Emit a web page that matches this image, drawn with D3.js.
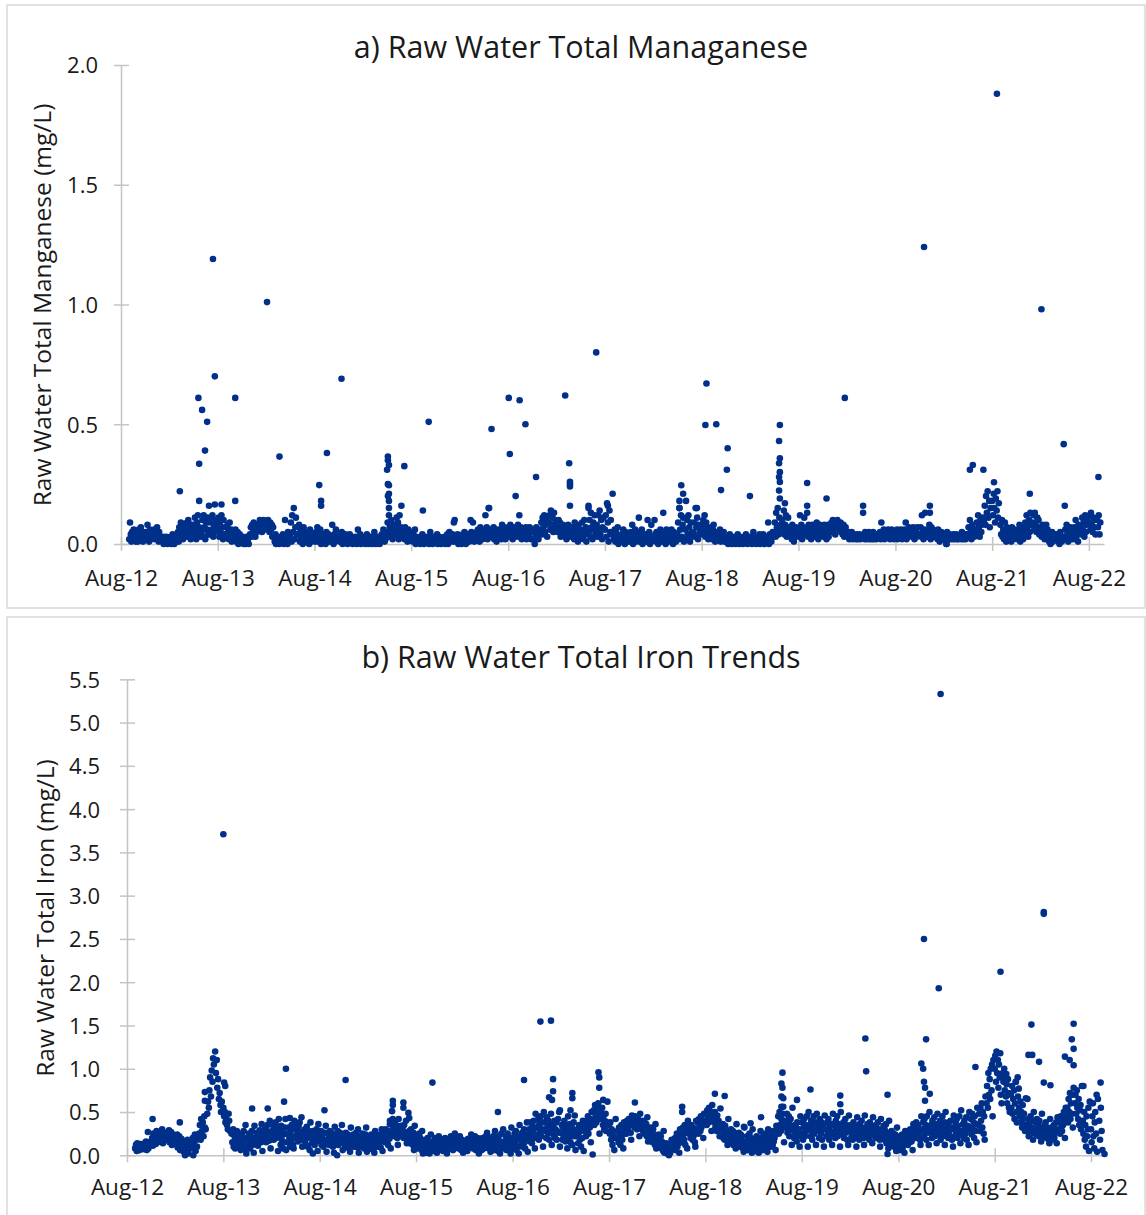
<!DOCTYPE html>
<html>
<head>
<meta charset="utf-8">
<script src="https://cdn.jsdelivr.net/npm/d3@7"></script>
<style>
  body { margin: 0; background: #fff; }
  text { font-family: "Open Sans", sans-serif; fill: #1a1a1a; }
</style>
</head>
<body>
<svg id="chart" width="1146" height="1215"></svg>
<script>
// Raw water manganese, hundredths of mg/L, one string per month (readings every few days)
const mn2012 = ["2 9 4 1 5 3 6 2 4 1", "3 1 6 4 2 7 3 5 1 4", "5 2 4 8 3 1 6 4 2 5", "4 6 2 5 3 7 4 1 5 3"];
const mn2013 = ["2 1 3 0 2 1 3 1 0 2", "1 3 0 2 4 1 0 2 3 1", "2 5 1 7 3 9 4 6 2 8", "6 3 9 5 10 4 7 2 8 5",
  "8 4 11 6 2 9 12 5 7 3", "5 10 3 12 7 2 9 6 11 4", "9 4 11 6 12 3 8 5 10 7", "6 11 3 9 5 12 7 2 10 4",
  "7 3 8 5 2 9 4 6 1 5", "4 2 6 1 3 5 0 2 4 1", "1 3 0 2 1 0 3 1 2 0", "4 7 3 8 5 9 6 3 7 5"];
const mn2014 = ["8 6 10 7 9 5 8 10 6 9", "9 7 10 8 5 9 6 8 3 7", "3 1 4 0 2 1 3 0 2 1", "1 4 0 2 10 1 3 0 5 2",
  "3 9 1 12 5 15 2 7 11 4", "4 8 1 6 2 5 0 7 3 2", "2 5 1 4 0 6 3 1 4 2", "3 1 5 2 7 1 4 2 6 0",
  "2 4 1 3 0 5 2 1 4 3", "1 3 8 2 0 4 1 6 2 3", "3 1 4 2 5 0 2 3 1 4", "2 0 3 1 4 2 1 3 0 2"];
const mn2015 = ["1 3 0 2 6 1 2 4 0 1", "2 1 3 0 2 4 1 0 3 1", "1 3 0 2 1 5 2 0 1 3", "2 0 3 1 4 2 6 3 1 2",
  "5 9 3 12 7 4 10 6 2 8", "8 4 11 6 9 2 12 5 7 3", "4 6 2 7 3 5 1 6 3 4", "3 5 1 4 2 6 0 3 2 1",
  "2 0 3 1 4 2 0 1 3 1", "1 3 0 2 5 1 2 0 3 1", "2 1 4 0 2 3 1 0 2 1", "1 3 0 2 1 4 0 2 5 1"];
const mn2016 = ["2 4 1 9 10 3 1 2 4 0", "1 3 0 2 4 1 5 2 0 3", "2 4 1 3 10 5 2 9 3 1", "3 5 2 6 4 1 7 3 5 2",
  "4 6 12 3 7 2 5 15 3 6", "5 3 7 2 6 4 1 5 3 6", "4 6 2 8 3 5 7 2 6 4", "5 7 3 8 4 6 2 7 5 3",
  "6 4 8 3 12 5 7 2 6 4", "3 5 7 2 6 4 3 7 5 2", "5 2 6 0 4 7 3 5 2 4", "6 9 4 11 7 12 5 8 10 3"];
const mn2017 = ["9 12 6 14 8 11 5 13 7 10", "8 5 10 6 9 3 7 4 8 6", "5 3 7 2 6 8 4 3 5 7", "4 7 2 9 5 3 6 1 8 4",
  "6 3 9 5 2 10 4 7 1 5", "5 10 3 13 7 2 9 6 12 4", "8 3 12 6 14 4 10 2 7 11", "6 12 3 17 9 1 14 5 10 4",
  "4 2 6 1 5 3 7 0 3 2", "2 4 1 6 3 0 5 2 4 1", "3 1 5 2 8 0 4 2 6 1", "2 5 11 1 4 3 6 0 3 2"];
const mn2018 = ["4 1 3 10 2 5 0 3 8 2", "2 10 4 1 5 3 0 4 2 6", "3 1 5 13 2 4 0 6 3 1", "2 4 1 6 3 0 5 2 4 1",
  "4 9 2 15 6 12 3 8 11 1", "6 2 10 4 12 7 1 9 3 5", "5 9 3 15 7 11 2 8 4 6", "8 4 10 6 12 3 9 5 7 2",
  "5 3 7 2 6 8 4 1 5 3", "3 5 2 6 1 4 3 2 5 1", "2 1 3 0 2 4 1 3 0 2", "1 3 0 2 1 4 2 0 3 1"];
const mn2019 = ["2 0 3 1 2 4 1 0 2 3", "1 3 0 2 5 1 3 2 0 2", "2 1 4 0 3 1 2 4 1 0", "1 3 2 9 0 4 2 1 3 5",
  "5 9 3 13 7 15 4 11 6 8", "10 6 14 4 8 12 3 7 11 5", "4 7 2 8 5 1 6 3 7 4", "6 3 12 5 8 2 7 4 11 6",
  "5 7 3 8 4 6 2 5 8 3", "4 7 3 9 5 2 6 8 4 5", "6 3 8 4 7 2 5 8 3 6", "7 9 5 10 6 8 4 9 7 10"];
const mn2020 = ["8 6 9 5 7 4 8 3 6 7", "4 3 5 2 4 3 5 2 4 3", "3 2 4 3 2 3 4 2 3 3", "3 4 2 5 3 2 4 3 5 2",
  "4 2 3 5 2 4 3 2 4 3", "3 5 2 9 4 3 6 2 5 4", "4 6 3 5 2 4 6 3 5 2", "5 3 6 2 4 5 3 6 4 2",
  "3 6 4 9 2 5 3 7 4 6", "5 3 7 4 2 6 5 3 7 4", "4 7 3 12 5 2 6 13 4 3", "6 3 8 5 2 7 4 6 3 5"];
const mn2021 = ["3 5 2 6 4 1 3 5 2 4", "2 4 3 0 5 2 3 4 2 3", "3 2 4 3 2 3 4 2 3 2", "3 4 2 5 3 2 4 3 2 4",
  "4 7 3 10 5 2 8 4 6 3", "6 9 4 12 7 3 10 5 8 11", "10 16 8 20 13 22 11 18 7 15", "18 12 21 15 9 19 14 22 11 17",
  "8 4 10 3 6 2 9 5 1 7", "3 6 2 5 1 7 4 2 6 3", "4 2 6 3 8 1 5 3 7 2", "6 9 4 12 7 3 10 5 13 8"];
const mn2022 = ["9 12 6 13 8 5 11 7 10 4", "6 3 8 4 7 2 5 8 3 6", "3 1 4 0 2 5 1 3 2 4", "2 4 1 3 0 5 2 1 3 2",
  "3 6 2 8 4 1 5 3 7 2", "5 2 7 4 10 3 6 1 8 5", "7 4 11 6 9 3 12 5 8 10", "9 12 6 13 8 5 11 7 10 4",
  "10 7 12 4 9"];

// Raw water iron, hundredths of mg/L, one string per month
const fe2012 = ["8 12 5 14 7 10 6 13 9 11", "10 7 14 9 16 6 12 8 15 11", "14 20 11 25 17 22 13 28 18 15", "22 16 27 19 30 14 24 18 26 20"];
const fe2013 = ["25 18 29 15 22 27 12 20 24 17", "20 14 24 9 18 22 6 15 19 12", "10 4 16 0 12 7 18 2 9 14", "15 8 20 0 12 24 5 18 10 22",
  "25 35 18 42 28 38 22 45 32 30", "48 62 55 75 90 68 98 85 112 105", "120 95 110 78 88 65 72 58 50 62", "55 45 50 38 42 35 30 48 40 28",
  "25 15 30 10 22 8 18 28 12 20", "12 22 6 18 25 10 15 28 8 20 35 2", "18 10 25 14 8 22 16 28 12 20 3 34", "20 14 26 18 11 24 16 29 22 15 36 5"];
const fe2014 = ["24 18 30 22 15 28 35 20 26 17 40 8", "28 22 34 18 30 25 38 20 32 26 5 42", "30 22 12 34 18 27 8 24 15 32 42 6", "25 15 32 20 10 28 18 35 22 12 8 40",
  "30 20 36 25 16 33 28 38 22 18 44 10", "26 18 30 14 24 33 20 10 28 22 6 38", "20 14 28 18 24 12 26 16 30 22 5 36", "22 16 28 12 20 25 10 18 26 14 34 4",
  "18 24 12 28 20 15 26 22 10 19 3 33", "24 15 20 28 12 22 18 26 14 20 35 6", "16 22 10 26 18 12 24 20 8 17 4 32", "20 14 24 10 18 22 12 26 16 9 30 3"];
const fe2015 = ["15 22 10 18 25 12 20 8 16 24 32 4", "12 20 8 18 14 24 10 16 6 19 3 28", "18 12 22 10 16 20 14 24 9 17 30 5", "20 26 15 30 22 18 28 12 24 19 36 8",
  "28 35 24 32 22 38 30 26 34 20 12 42", "30 25 34 22 32 28 20 35 26 24 40 14", "24 18 28 14 22 30 16 20 12 26 6 34", "18 12 22 8 16 25 10 20 14 6 28 2",
  "12 6 18 3 15 20 8 14 2 10 24", "10 16 5 12 20 8 14 3 18 11 22", "14 8 18 10 5 16 12 20 7 13 2", "12 18 8 15 22 10 16 6 14 19 25"];
const fe2016 = ["16 10 20 8 14 22 12 6 18 13 3", "12 17 8 15 5 19 11 14 9 16 24", "14 8 18 12 22 6 16 10 20 13 2", "10 16 6 20 12 8 18 14 22 9 26",
  "15 8 20 4 12 18 10 22 6 14 28", "12 18 5 22 10 2 16 25 8 14 30", "16 10 22 6 18 25 12 8 20 14 2 32", "14 20 8 25 12 28 6 18 22 10 2 35",
  "18 12 26 10 22 30 15 8 24 20 38 4", "22 30 16 38 25 14 34 28 40 20 8 48", "32 24 42 18 36 28 45 22 38 30 10 50", "28 38 20 44 32 25 40 18 35 30 48 12"];
const fe2017 = ["34 24 40 20 30 38 18 28 42 26 50 10", "26 35 18 32 22 40 28 16 34 24 8 45", "30 20 36 15 26 32 12 28 38 22 46 6", "22 30 14 26 35 18 28 10 32 20 40 5",
  "28 36 22 40 30 45 25 38 32 42 15 50", "40 52 35 58 45 38 55 48 60 42 25", "50 42 55 35 46 30 40 48 28 38 62", "35 25 38 18 30 12 28 22 6 20 42",
  "20 28 15 32 22 12 26 35 18 24 8 38", "30 36 25 40 32 28 42 34 38 26 18 46", "38 42 32 45 36 40 30 44 35 40 22 48", "36 30 40 28 34 38 25 32 36 22 44 16"];
const fe2018 = ["28 22 32 18 26 15 30 20 24 12 36 8", "20 14 24 10 18 22 8 16 12 5 28 3", "10 5 14 2 8 12 0 6 3 9 18", "8 15 12 20 6 18 25 10 22 14 3 30",
  "20 28 15 32 24 18 35 12 30 26 8 40", "25 30 20 35 28 18 32 22 26 15 10 40", "30 38 25 42 34 28 45 32 40 36 20 48", "40 48 35 52 44 38 55 46 42 50 28 58",
  "45 38 50 32 42 28 46 35 40 30 22 54", "32 25 36 20 30 18 34 28 22 26 12 42", "25 18 30 14 22 28 12 20 26 16 8 36", "20 14 26 10 18 24 12 22 16 8 4 32"];
const fe2019 = ["15 10 22 6 18 12 25 8 20 14 3 30", "12 18 5 15 22 8 14 3 20 10 28", "10 16 6 22 12 18 8 25 14 20 4 30", "15 22 10 26 18 12 28 16 20 24 6 34",
  "30 45 25 50 35 28 42 38 48 32 15", "40 32 48 26 38 45 22 35 42 30 12 55", "28 20 35 24 32 16 38 26 30 22 10 45", "25 38 18 32 42 22 35 28 45 30 10 50",
  "35 22 40 28 18 32 45 25 38 30 12 48", "28 36 20 42 32 25 38 18 34 30 10 46", "30 22 38 26 42 18 34 28 24 36 12 48", "26 34 20 40 30 45 22 36 28 32 10 50"];
const fe2020 = ["32 24 38 20 28 42 26 35 18 30 12 46", "28 35 22 32 18 38 25 30 20 34 10 44", "24 30 18 36 28 22 40 32 26 20 12 46", "30 22 36 25 32 18 38 28 24 34 14 44",
  "26 32 20 35 28 24 38 22 30 18 10 42", "28 22 34 18 30 25 36 14 26 20 8 40", "22 16 28 12 20 25 10 18 24 14 5 32", "15 10 22 6 18 12 24 8 20 14 3 28",
  "18 24 12 28 20 15 30 22 16 26 6 36", "25 32 20 38 28 22 35 30 26 18 12 45", "30 38 22 42 28 35 18 45 32 26 12 50", "28 35 20 40 32 25 44 22 36 30 14 48"];
const fe2021 = ["32 24 40 18 36 28 45 22 30 38 12 50", "26 34 20 38 28 22 40 30 18 32 10 46", "30 22 38 26 42 20 34 28 45 24 14 52", "28 36 20 40 32 25 44 18 34 30 12 50",
  "32 42 24 48 30 38 20 45 28 36 15 55", "35 48 28 55 40 60 32 50 25 45 18 68", "60 80 55 95 70 88 65 100 75 105 45 110", "100 115 85 120 95 110 78 105 90 118 70 60",
  "95 85 100 75 90 68 82 60 88 72 55 50", "70 55 80 48 65 75 42 60 85 50 38 90", "55 45 62 38 50 32 58 42 48 35 28 66", "35 28 42 22 38 30 45 25 32 40 18 50"];
const fe2022 = ["30 38 24 42 28 35 22 40 32 26 16 48", "28 22 35 25 38 20 32 30 24 18 14 42", "25 32 18 28 22 35 20 30 26 38 14 44", "30 38 25 45 32 28 42 35 50 40 20 55",
  "45 55 38 65 50 72 42 60 48 70 32 78", "60 70 48 75 55 42 65 35 52 58 30 80", "40 25 50 18 35 10 45 22 30 55 5 62", "30 15 45 60 22 8 38 50 25 70 4 65",
  "40 18 55 28 6"];

// isolated high readings: [decimal year, mg/L]
const mnOutliers = [
  [2013.19, 0.22], [2013.38, 0.61], [2013.42, 0.56], [2013.47, 0.51], [2013.45, 0.39], [2013.39, 0.335],
  [2013.39, 0.18], [2013.55, 0.70], [2013.53, 1.19], [2013.76, 0.61], [2013.76, 0.18], [2013.49, 0.16],
  [2013.55, 0.165], [2013.62, 0.165], [2014.09, 1.01], [2014.22, 0.365], [2014.63, 0.246], [2014.65, 0.18],
  [2014.65, 0.16], [2014.71, 0.38], [2014.86, 0.69],
  [2015.34, 0.365], [2015.34, 0.35], [2015.35, 0.33], [2015.33, 0.31], [2015.35, 0.245], [2015.34, 0.25],
  [2015.35, 0.21], [2015.34, 0.20], [2015.35, 0.18], [2015.35, 0.15],
  [2015.51, 0.325], [2015.48, 0.16], [2015.76, 0.51], [2015.70, 0.14], [2016.38, 0.15], [2016.41, 0.48],
  [2016.59, 0.61], [2016.70, 0.60], [2016.60, 0.376], [2016.76, 0.50], [2016.66, 0.20], [2016.87, 0.28],
  [2017.17, 0.62], [2017.21, 0.337], [2017.22, 0.26], [2017.22, 0.25], [2017.22, 0.24], [2017.22, 0.16],
  [2017.41, 0.16], [2017.41, 0.15], [2017.49, 0.80], [2017.61, 0.16], [2017.66, 0.21],
  [2018.37, 0.245], [2018.39, 0.21], [2018.42, 0.18], [2018.35, 0.18], [2018.35, 0.15], [2018.53, 0.15],
  [2018.62, 0.497], [2018.63, 0.67], [2018.73, 0.50], [2018.85, 0.40], [2018.84, 0.31], [2018.78, 0.225],
  [2019.08, 0.20],
  [2019.39, 0.497], [2019.38, 0.43], [2019.39, 0.358], [2019.38, 0.337], [2019.39, 0.30], [2019.38, 0.28],
  [2019.39, 0.259], [2019.38, 0.223], [2019.39, 0.19], [2019.44, 0.17],
  [2019.67, 0.255], [2019.67, 0.16], [2019.67, 0.13], [2019.87, 0.19], [2020.06, 0.61], [2020.25, 0.16],
  [2020.25, 0.13], [2020.88, 1.24], [2020.94, 0.16], [2020.94, 0.13], [2021.11, 0.0], [2021.35, 0.31],
  [2021.38, 0.33], [2021.49, 0.31], [2021.60, 0.258], [2021.63, 1.88], [2021.97, 0.21], [2022.09, 0.98],
  [2022.32, 0.417], [2022.33, 0.16], [2022.68, 0.28]
];
const feOutliers = [
  [2012.85, 0.42], [2012.80, 0.27], [2013.13, 0.38], [2013.39, 0.73], [2013.39, 0.63], [2013.59, 0.84],
  [2013.60, 0.80], [2013.58, 3.71], [2013.88, 0.54], [2014.04, 0.54], [2014.23, 1.0], [2014.21, 0.62],
  [2014.27, 0.43], [2014.51, 0.02], [2014.63, 0.52], [2014.85, 0.87], [2014.76, 0.0],
  [2015.34, 0.63], [2015.34, 0.58], [2015.33, 0.51], [2015.31, 0.40], [2015.34, 0.42],
  [2015.45, 0.61], [2015.45, 0.55], [2015.50, 0.49], [2015.51, 0.43], [2015.75, 0.84],
  [2016.43, 0.50], [2016.70, 0.87], [2016.87, 1.545], [2016.98, 1.556], [2017.00, 0.88], [2017.00, 0.74],
  [2016.96, 0.67], [2016.99, 0.64], [2017.07, 0.52], [2017.18, 0.52], [2017.20, 0.66], [2017.20, 0.72],
  [2017.41, 0.01], [2017.47, 0.96], [2017.48, 0.90], [2017.48, 0.78], [2017.52, 0.64], [2017.85, 0.61],
  [2018.34, 0.56], [2018.34, 0.50], [2018.68, 0.71], [2018.78, 0.685], [2019.16, 0.44], [2019.05, 0.37],
  [2018.98, 0.33],
  [2019.38, 0.955], [2019.37, 0.83], [2019.38, 0.78], [2019.37, 0.68], [2019.39, 0.66], [2019.37, 0.56], [2019.39, 0.56],
  [2019.67, 0.76], [2019.53, 0.64], [2019.98, 0.69], [2019.98, 0.59], [2020.24, 1.35], [2020.25, 0.97],
  [2020.47, 0.015], [2020.47, 0.70], [2020.87, 1.34], [2020.85, 2.50], [2020.82, 1.06], [2020.84, 1.0],
  [2020.85, 0.85], [2020.86, 0.78], [2020.91, 0.71], [2020.86, 0.63], [2021.00, 1.93], [2021.02, 5.33],
  [2021.38, 1.02], [2021.64, 2.12], [2021.80, 0.85], [2021.83, 0.77], [2021.82, 0.68], [2021.92, 0.65],
  [2021.70, 0.94], [2021.96, 1.51], [2021.93, 1.16], [2021.97, 1.16], [2022.04, 1.08], [2022.09, 2.81],
  [2022.09, 2.79], [2022.09, 0.84], [2022.16, 0.81], [2022.40, 1.52], [2022.38, 1.34], [2022.31, 1.14],
  [2022.36, 1.10], [2022.40, 1.23], [2022.40, 1.04], [2022.50, 0.80], [2022.68, 0.84], [2022.72, 0.015]
];

const mnYears = [[2012, 8, mn2012], [2013, 0, mn2013], [2014, 0, mn2014], [2015, 0, mn2015], [2016, 0, mn2016],
  [2017, 0, mn2017], [2018, 0, mn2018], [2019, 0, mn2019], [2020, 0, mn2020], [2021, 0, mn2021], [2022, 0, mn2022]];
const feYears = [[2012, 8, fe2012], [2013, 0, fe2013], [2014, 0, fe2014], [2015, 0, fe2015], [2016, 0, fe2016],
  [2017, 0, fe2017], [2018, 0, fe2018], [2019, 0, fe2019], [2020, 0, fe2020], [2021, 0, fe2021], [2022, 0, fe2022]];

const tickYears = [2012, 2013, 2014, 2015, 2016, 2017, 2018, 2019, 2020, 2021, 2022];

const dotColor = "#00308a";
const axisColor = "#c4c4c4";

function monthlyPoints(years) {
  const pts = [];
  years.forEach(([year, firstMonth, months]) => {
    months.forEach((s, k) => {
      const vals = s.split(" ");
      const step = Math.min(3, 28 / vals.length);
      vals.forEach((v, i) => {
        pts.push({ date: new Date(year, firstMonth + k, 1 + Math.round(i * step)), value: +v / 100 });
      });
    });
  });
  return pts;
}

function decimalDate(t) {
  const y = Math.floor(t);
  return new Date(y, 0, 1 + Math.round((t - y) * 365.25));
}

const svg = d3.select("#chart");

function drawPanel(cfg) {
  // panel border
  svg.append("rect")
    .attr("x", cfg.frame[0]).attr("y", cfg.frame[1])
    .attr("width", cfg.frame[2]).attr("height", cfg.frame[3])
    .attr("fill", "none").attr("stroke", "#d9d9d9").attr("stroke-width", 1.5);

  const x = d3.scaleTime().domain(cfg.xDomain).range(cfg.xRange);
  const y = d3.scaleLinear().domain([0, cfg.yMax]).range(cfg.yRange);

  const g = svg.append("g");

  // y axis
  const yAxis = g.append("g")
    .attr("transform", `translate(${cfg.xRange[0]},0)`)
    .call(d3.axisLeft(y).tickValues(d3.range(0, cfg.yMax + 0.01, 0.5)).tickFormat(d3.format(".1f")).tickSizeOuter(0));
  yAxis.select(".domain").attr("stroke", axisColor).attr("stroke-width", 1.5);
  yAxis.selectAll(".tick line").attr("x1", -7).attr("x2", 8).attr("stroke", axisColor).attr("stroke-width", 1.5);
  yAxis.selectAll(".tick text").attr("x", cfg.yLabelDx).attr("dy", "0.36em")
    .style("font-size", "22px").attr("fill", "#1a1a1a");

  // x axis
  const xAxis = g.append("g")
    .attr("transform", `translate(0,${cfg.yRange[0]})`)
    .call(d3.axisBottom(x).tickValues(tickYears.map(yr => new Date(yr, 7, 1))).tickFormat(d3.timeFormat("%b-%y")).tickSizeOuter(0));
  xAxis.select(".domain").attr("stroke", axisColor).attr("stroke-width", 1.5);
  xAxis.selectAll(".tick line").attr("y1", -7).attr("y2", 7).attr("stroke", axisColor).attr("stroke-width", 1.5);
  xAxis.selectAll(".tick text").attr("y", cfg.xLabelDy).attr("dy", 0)
    .style("font-size", "22.5px").attr("fill", "#1a1a1a");

  // points
  const pts = monthlyPoints(cfg.years)
    .concat(cfg.outliers.map(d => ({ date: decimalDate(d[0]), value: d[1] })));
  g.append("g").selectAll("circle")
    .data(pts)
    .enter().append("circle")
    .attr("cx", d => x(d.date))
    .attr("cy", d => y(d.value))
    .attr("r", 3.3)
    .attr("fill", dotColor);

  // titles
  svg.append("text")
    .attr("x", 581).attr("y", cfg.titleY)
    .attr("text-anchor", "middle")
    .style("font-size", "30.5px")
    .text(cfg.title);

  svg.append("text")
    .attr("transform", `translate(${cfg.yTitleX},${cfg.yTitleY}) rotate(-90)`)
    .attr("text-anchor", "middle")
    .style("font-size", "24.5px")
    .text(cfg.yTitle);
}

drawPanel({
  frame: [7, 5, 1138, 603],
  xDomain: [new Date(2012, 7, 1), new Date(2022, 8, 27)],
  xRange: [121, 1104],
  yMax: 2.0,
  yRange: [544, 65],
  yLabelDx: -23,
  xLabelDy: 42,
  years: mnYears,
  outliers: mnOutliers,
  title: "a) Raw Water Total Managanese",
  titleY: 58,
  yTitle: "Raw Water Total Manganese (mg/L)",
  yTitleX: 51,
  yTitleY: 305
});

drawPanel({
  frame: [7, 617, 1138, 610],
  xDomain: [new Date(2012, 7, 1), new Date(2022, 8, 19)],
  xRange: [127, 1104],
  yMax: 5.5,
  yRange: [1155.3, 679.3],
  yLabelDx: -27,
  xLabelDy: 40,
  years: feYears,
  outliers: feOutliers,
  title: "b) Raw Water Total Iron Trends",
  titleY: 668,
  yTitle: "Raw Water Total Iron (mg/L)",
  yTitleX: 54,
  yTitleY: 918
});
</script>
</body>
</html>
